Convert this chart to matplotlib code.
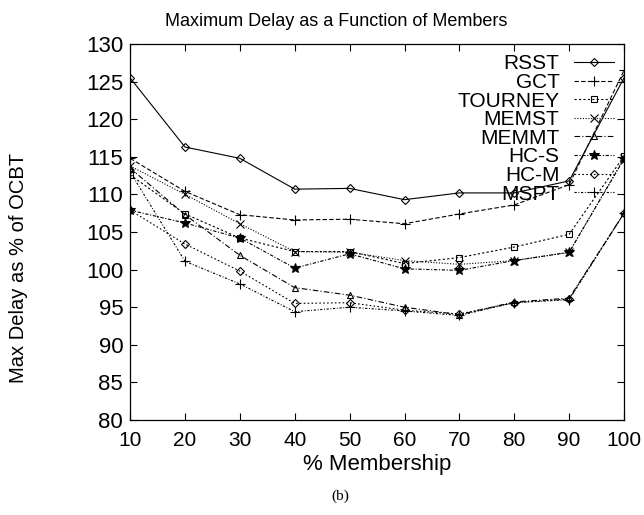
import matplotlib
matplotlib.use('Agg')
import matplotlib.pyplot as plt

# Percentage of group membership on the x axis
membership = [10, 20, 30, 40, 50, 60, 70, 80, 90, 100]

# Max delay of each heuristic, as % of the OCBT delay
rsst    = [125.5, 116.3, 114.8, 110.7, 110.8, 109.3, 110.2, 110.2, 111.8, 125.5]
gct     = [114.8, 110.4, 107.3, 106.6, 106.7, 106.1, 107.4, 108.6, 111.3, 126.5]
tourney = [112.6, 107.4, 104.2, 102.4, 102.4, 100.8, 101.6, 103.0, 104.7, 115.1]
memst   = [113.8, 110.0, 106.1, 102.4, 102.3, 101.2, 100.7, 101.2, 102.3, 114.8]
memmt   = [113.5, 107.3, 101.9, 97.6, 96.6, 95.0, 94.0, 95.7, 96.2, 107.5]
hc_s    = [107.9, 106.2, 104.2, 100.2, 102.1, 100.1, 99.9, 101.2, 102.3, 114.7]
hc_m    = [107.9, 103.4, 99.8, 95.5, 95.6, 94.6, 94.1, 95.6, 96.1, 107.5]
mspt    = [113.0, 101.1, 98.1, 94.4, 95.0, 94.5, 93.9, 95.6, 96.0, 107.5]

labels = ['RSST', 'GCT', 'TOURNEY', 'MEMST', 'MEMMT', 'HC-S', 'HC-M', 'MSPT']
series = [rsst, gct, tourney, memst, memmt, hc_s, hc_m, mspt]

# gnuplot-ish point types and dash patterns
markers = ['D', '+', 's', 'x', '^', '*', 'D', '+']
dashes  = [(None, None), (4, 2), (2, 2), (1, 1.5), (5, 2, 1, 2),
           (3, 1.5, 1, 1.5), (1.5, 2), (2, 1.5, 0.8, 1.5)]
msizes  = [4, 7, 5, 6, 5, 7, 4, 7]

plt.rcParams['font.family'] = ['Liberation Sans', 'DejaVu Sans']

fig = plt.figure(figsize=(6.44, 5.15), dpi=100)
ax = fig.add_axes([0.202, 0.1845, 0.767, 0.730])

for y, lab, m, d, ms in zip(series, labels, markers, dashes, msizes):
    line, = ax.plot(membership, y, color='black', linewidth=0.8, marker=m,
                    markersize=ms, markerfacecolor='none', markeredgewidth=0.8,
                    label=lab)
    if d[0] is not None:
        line.set_dashes(d)
# HC-S uses a filled star
ax.lines[5].set_markerfacecolor('black')

ax.set_xlim(10, 100)
ax.set_ylim(80, 130)
ax.set_xticks(membership)
ax.set_yticks(range(80, 131, 5))
ax.tick_params(direction='in', length=5, width=0.8, labelsize=15,
               top=True, right=True)
ax.tick_params(axis='x', pad=8)
ax.tick_params(axis='y', pad=5, labelsize=16)
for sp in ax.spines.values():
    sp.set_linewidth(0.9)

fig.text(336 / 644, 1 - 21 / 515, 'Maximum Delay as a Function of Members',
         fontsize=13, ha='center', va='center')
ax.set_xlabel('% Membership', fontsize=16, labelpad=3)
fig.text(19 / 644, 1 - 268 / 515, 'Max Delay as % of OCBT', fontsize=14.5,
         rotation=90, ha='center', va='center')

ax.legend(loc='upper right', frameon=False, markerfirst=False, fontsize=15,
          handlelength=1.9, handletextpad=0.7, labelspacing=-0.02,
          borderaxespad=0.3, borderpad=0.2)

fig.text(340 / 644, 1 - 496 / 515, '(b)', fontsize=11,
         family='Liberation Serif', ha='center', va='center')

fig.savefig('out.png', dpi=100)
